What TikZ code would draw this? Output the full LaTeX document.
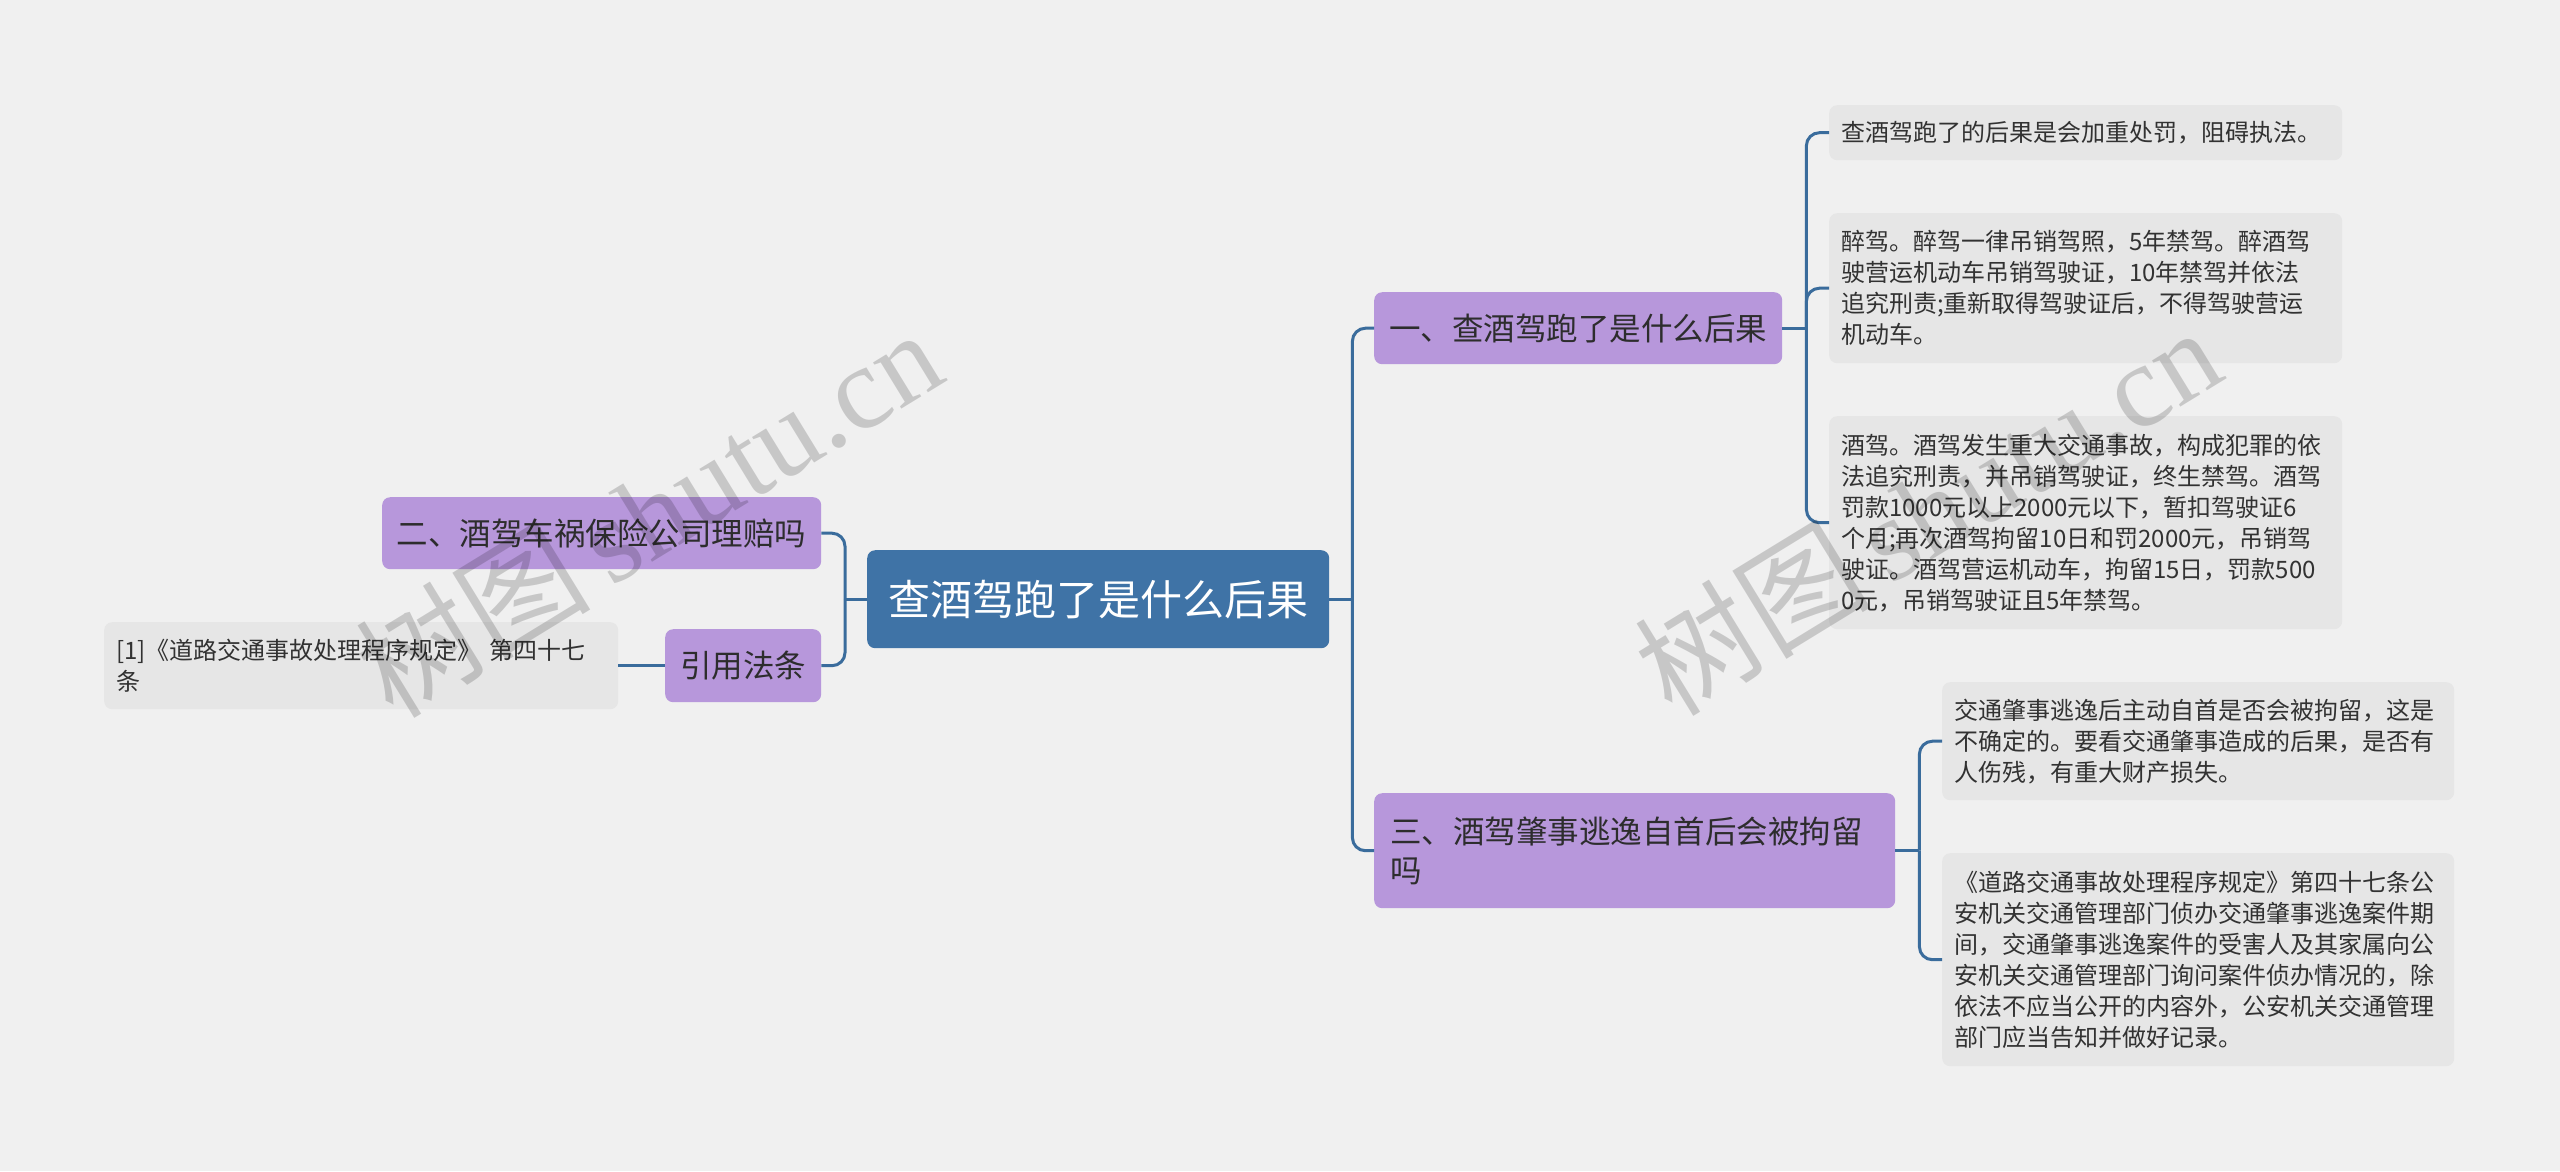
\documentclass[tikz,border=0pt]{standalone}
\usepackage{fontspec}
\setmainfont{Noto Sans CJK SC}
\newfontfamily\wmlatin{Liberation Serif}
\newfontfamily\wmcjk{Noto Sans CJK SC}
\definecolor{bgc}{RGB}{240,240,240}
\definecolor{rootc}{RGB}{63,115,166}
\definecolor{branchc}{RGB}{183,151,219}
\definecolor{leafc}{RGB}{230,230,230}
\definecolor{linec}{RGB}{58,108,156}
\definecolor{txtc}{RGB}{45,45,45}
\definecolor{leaftxt}{RGB}{50,50,50}
\tikzset{
  rootbox/.style={draw=none, fill=rootc, rounded corners=8pt, text=white, anchor=north west,
    font=\fontsize{42}{50}\selectfont, inner sep=0pt, align=center},
  branchbox/.style={draw=none, fill=branchc, rounded corners=8pt, text=txtc, anchor=north west,
    font=\fontsize{31.5}{39}\selectfont, inner sep=0pt, align=center},
  leafbox/.style={draw=none, fill=leafc, rounded corners=8pt, text=leaftxt, anchor=north west,
    font=\fontsize{24}{31}\selectfont, inner xsep=12pt, inner ysep=0pt, align=left},
  conn/.style={draw=linec, line width=3pt, rounded corners=13pt},
  wm/.style={text=black, opacity=0.17, rotate=31.5, inner sep=0pt}
}
\begin{document}
\begin{tikzpicture}[x=1pt,y=-1pt]
\useasboundingbox (0,0) rectangle (2560,1171);
\fill[bgc] (0,0) rectangle (2560,1171);

% root
\node[rootbox, minimum width=462pt, minimum height=98pt] (root) at (867,550) {查酒驾跑了是什么后果};

% branches
\node[branchbox, minimum width=408pt, minimum height=72pt] (b1) at (1374,292) {一、查酒驾跑了是什么后果};
\node[branchbox, minimum width=439pt, minimum height=72pt] (b2) at (382,497) {二、酒驾车祸保险公司理赔吗};
\node[branchbox, minimum width=156pt, minimum height=73pt] (cite) at (665,629) {引用法条};
\node[branchbox, minimum width=521pt, minimum height=115pt, text width=489pt, align=left] (b3) at (1374,793) {三、酒驾肇事逃逸自首后会被拘留\\吗};

% leaves
\node[leafbox, minimum width=513pt, minimum height=55pt, text width=489pt] (l1) at (1829,105) {查酒驾跑了的后果是会加重处罚，阻碍执法。};
\node[leafbox, minimum width=513pt, minimum height=150pt, text width=489pt] (l2) at (1829,213) {醉驾。醉驾一律吊销驾照，5年禁驾。醉酒驾\\驶营运机动车吊销驾驶证，10年禁驾并依法\\追究刑责;重新取得驾驶证后，不得驾驶营运\\机动车。};
\node[leafbox, minimum width=513pt, minimum height=213pt, text width=489pt] (l3) at (1829,416) {酒驾。酒驾发生重大交通事故，构成犯罪的依\\法追究刑责，并吊销驾驶证，终生禁驾。酒驾\\罚款1000元以上2000元以下，暂扣驾驶证6\\个月;再次酒驾拘留10日和罚2000元，吊销驾\\驶证。酒驾营运机动车，拘留15日，罚款500\\0元，吊销驾驶证且5年禁驾。};
\node[leafbox, minimum width=512pt, minimum height=118pt, text width=488pt] (l4) at (1942,682) {交通肇事逃逸后主动自首是否会被拘留，这是\\不确定的。要看交通肇事造成的后果，是否有\\人伤残，有重大财产损失。};
\node[leafbox, minimum width=512pt, minimum height=213pt, text width=488pt] (l5) at (1942,853) {《道路交通事故处理程序规定》第四十七条公\\安机关交通管理部门侦办交通肇事逃逸案件期\\间，交通肇事逃逸案件的受害人及其家属向公\\安机关交通管理部门询问案件侦办情况的，除\\依法不应当公开的内容外，公安机关交通管理\\部门应当告知并做好记录。};
\node[leafbox, minimum width=514pt, minimum height=87pt, text width=490pt] (ll) at (104,622) {[1]《道路交通事故处理程序规定》 第四十七\\条};

% junctions
\coordinate (jR) at ([xshift=23pt]root.east);
\coordinate (jL) at ([xshift=-22pt]root.west);
\coordinate (j1) at ([xshift=24pt]b1.east);
\coordinate (j3) at ([xshift=24pt]b3.east);

% connectors
\draw[conn] (root.east) -- (jR);
\draw[conn] (jR) |- (b1.west);
\draw[conn] (jR) |- (b3.west);
\draw[conn] (root.west) -- (jL);
\draw[conn] (jL) |- (b2.east);
\draw[conn] (jL) |- (cite.east);
\draw[conn] (cite.west) -- (ll.east);
\draw[conn] (b1.east) -- (j1);
\draw[conn] (j1) |- (l1.west);
\draw[conn] (j1) |- (l2.west);
\draw[conn] (j1) |- (l3.west);
\draw[conn] (b3.east) -- (j3);
\draw[conn] (j3) |- (l4.west);
\draw[conn] (j3) |- (l5.west);

% watermarks
\node[wm] (wm1) at (648,512) {\fontsize{118}{118}\selectfont\wmcjk 树图\,\wmlatin shutu.cn};
\node[wm] (wm2) at (1927,510) {\fontsize{118}{118}\selectfont\wmcjk 树图\,\wmlatin shutu.cn};
\end{tikzpicture}
\end{document}
